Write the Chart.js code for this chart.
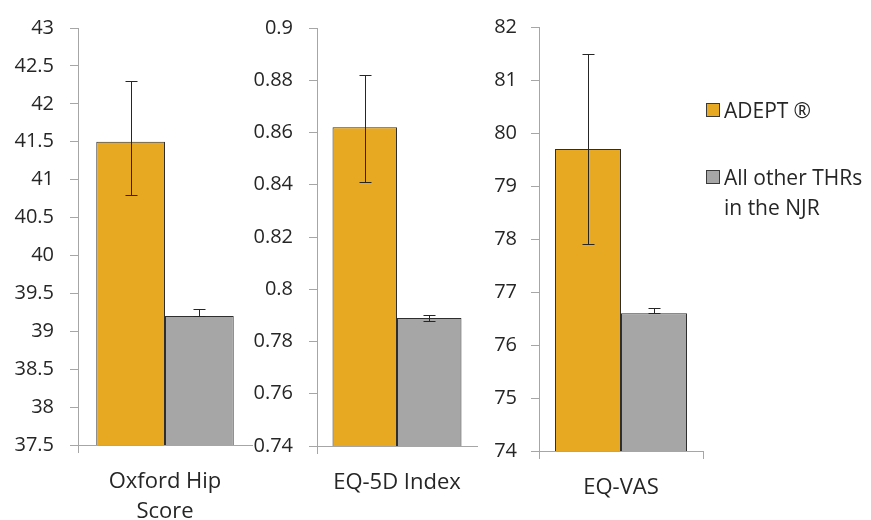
<!DOCTYPE html>
<html>
<head>
<meta charset="utf-8">
<script src="https://cdn.jsdelivr.net/npm/chart.js@4"></script>
<style>
  html, body { margin: 0; padding: 0; background: #ffffff; }
  body { width: 871px; height: 520px; position: relative; overflow: hidden; font-family: "Open Sans", sans-serif; color: #262626; }
  canvas { position: absolute; top: 0; }
  .leg-box { position: absolute; width: 12px; height: 12px; border: 1px solid #3a3a3a; }
  .leg-text { position: absolute; font-size: 21px; line-height: 30px; white-space: nowrap; color: #262626; }
</style>
</head>
<body>
<canvas id="c0" width="260" height="520" style="left:0px"></canvas>
<canvas id="c1" width="245" height="520" style="left:240px"></canvas>
<canvas id="c2" width="240" height="520" style="left:470px"></canvas>

<div class="leg-box" style="left:706px; top:103px; background:#E8A922"></div>
<div class="leg-text" style="left:724px; top:95px">ADEPT<span style="margin-left:5px">®</span></div>
<div class="leg-box" style="left:706px; top:170px; background:#A5A6A5"></div>
<div class="leg-text" style="left:724px; top:162px">All other THRs<br>in the NJR</div>

<script>
// ---- data ----
const seriesNames = ['ADEPT®', 'All other THRs in the NJR'];
const panelLabels = [['Oxford Hip', 'Score'], 'EQ-5D Index', 'EQ-VAS'];
const adeptValues = [41.5, 0.862, 79.7];
const adeptLower  = [40.8, 0.841, 77.9];
const adeptUpper  = [42.3, 0.882, 81.5];
const otherValues = [39.2, 0.789, 76.6];
const otherLower  = [39.2, 0.788, 76.6];
const otherUpper  = [39.3, 0.790, 76.7];
const yMin  = [37.5, 0.74, 74];
const yMax  = [43, 0.9, 82];
const yStep = [0.5, 0.02, 1];

// ---- layout / style ----
const seriesColors = ['#E8A922', '#A5A6A5'];
const axisColor = '#A6A6A6';
const textColor = '#262626';
const layouts = [
  { yWidth: 78, xHeight: 75, top: 26, right: 8, catPct: 0.79, xPad: 14, rightTick: false, yPad: 16 },
  { yWidth: 77, xHeight: 74, top: 26, right: 8, catPct: 0.806, xPad: 14, rightTick: false, yPad: 16 },
  { yWidth: 69, xHeight: 69, top: 27, right: 7, catPct: 0.805, xPad: 14, rightTick: true, yPad: 14 }
];

const errorBarPlugin = {
  id: 'errorBars',
  afterDatasetsDraw(chart) {
    const ctx = chart.ctx;
    const y = chart.scales.y;
    chart.data.datasets.forEach((ds, di) => {
      const meta = chart.getDatasetMeta(di);
      meta.data.forEach((bar, i) => {
        const x = Math.round(bar.x) + 0.5;
        const yl = Math.round(y.getPixelForValue(ds.errLow[i])) + 0.5;
        const yh = Math.round(y.getPixelForValue(ds.errHigh[i])) + 0.5;
        ctx.save();
        ctx.strokeStyle = '#262626';
        ctx.lineWidth = 1;
        ctx.beginPath();
        ctx.moveTo(x, yl); ctx.lineTo(x, yh);
        ctx.moveTo(x - 6, yl); ctx.lineTo(x + 6, yl);
        ctx.moveTo(x - 6, yh); ctx.lineTo(x + 6, yh);
        ctx.stroke();
        ctx.restore();
      });
    });
  }
};

function fmt(v) { return String(parseFloat(Number(v).toFixed(3))); }

for (let p = 0; p < 3; p++) {
  const L = layouts[p];
  new Chart(document.getElementById('c' + p), {
    type: 'bar',
    data: {
      labels: [panelLabels[p]],
      datasets: [
        { label: seriesNames[0], data: [adeptValues[p]], errLow: [adeptLower[p]], errHigh: [adeptUpper[p]],
          backgroundColor: seriesColors[0], borderColor: '#2e2e2e', borderWidth: 1 },
        { label: seriesNames[1], data: [otherValues[p]], errLow: [otherLower[p]], errHigh: [otherUpper[p]],
          backgroundColor: seriesColors[1], borderColor: '#2e2e2e', borderWidth: 1 }
      ]
    },
    options: {
      responsive: false,
      animation: false,
      events: [],
      layout: { padding: { top: L.top, right: L.right, left: 0, bottom: 0 } },
      plugins: { legend: { display: false }, tooltip: { enabled: false } },
      datasets: { bar: { categoryPercentage: L.catPct, barPercentage: 1 } },
      scales: {
        x: {
          type: 'category',
          offset: true,
          grid: {
            display: true, drawOnChartArea: false, drawTicks: true, tickLength: 8, offset: true,
            tickColor: (c) => (c.index === 0 || L.rightTick) ? axisColor : 'rgba(0,0,0,0)'
          },
          border: { display: true, color: axisColor, width: 1 },
          ticks: {
            color: textColor, padding: L.xPad, maxRotation: 0, autoSkip: false,
            font: { family: 'Open Sans', size: 22, lineHeight: 1.36 }
          },
          afterFit: (s) => { s.height = L.xHeight; }
        },
        y: {
          type: 'linear',
          min: yMin[p], max: yMax[p],
          beginAtZero: false,
          grid: { display: true, drawOnChartArea: false, drawTicks: true, tickLength: 8, tickColor: axisColor },
          border: { display: true, color: axisColor, width: 1 },
          ticks: {
            stepSize: yStep[p], maxTicksLimit: 30, color: textColor, padding: L.yPad,
            font: { family: 'Open Sans', size: 20 },
            callback: (v) => fmt(v)
          },
          afterFit: (s) => { s.width = L.yWidth; }
        }
      }
    },
    plugins: [errorBarPlugin]
  });
}
</script>
</body>
</html>
